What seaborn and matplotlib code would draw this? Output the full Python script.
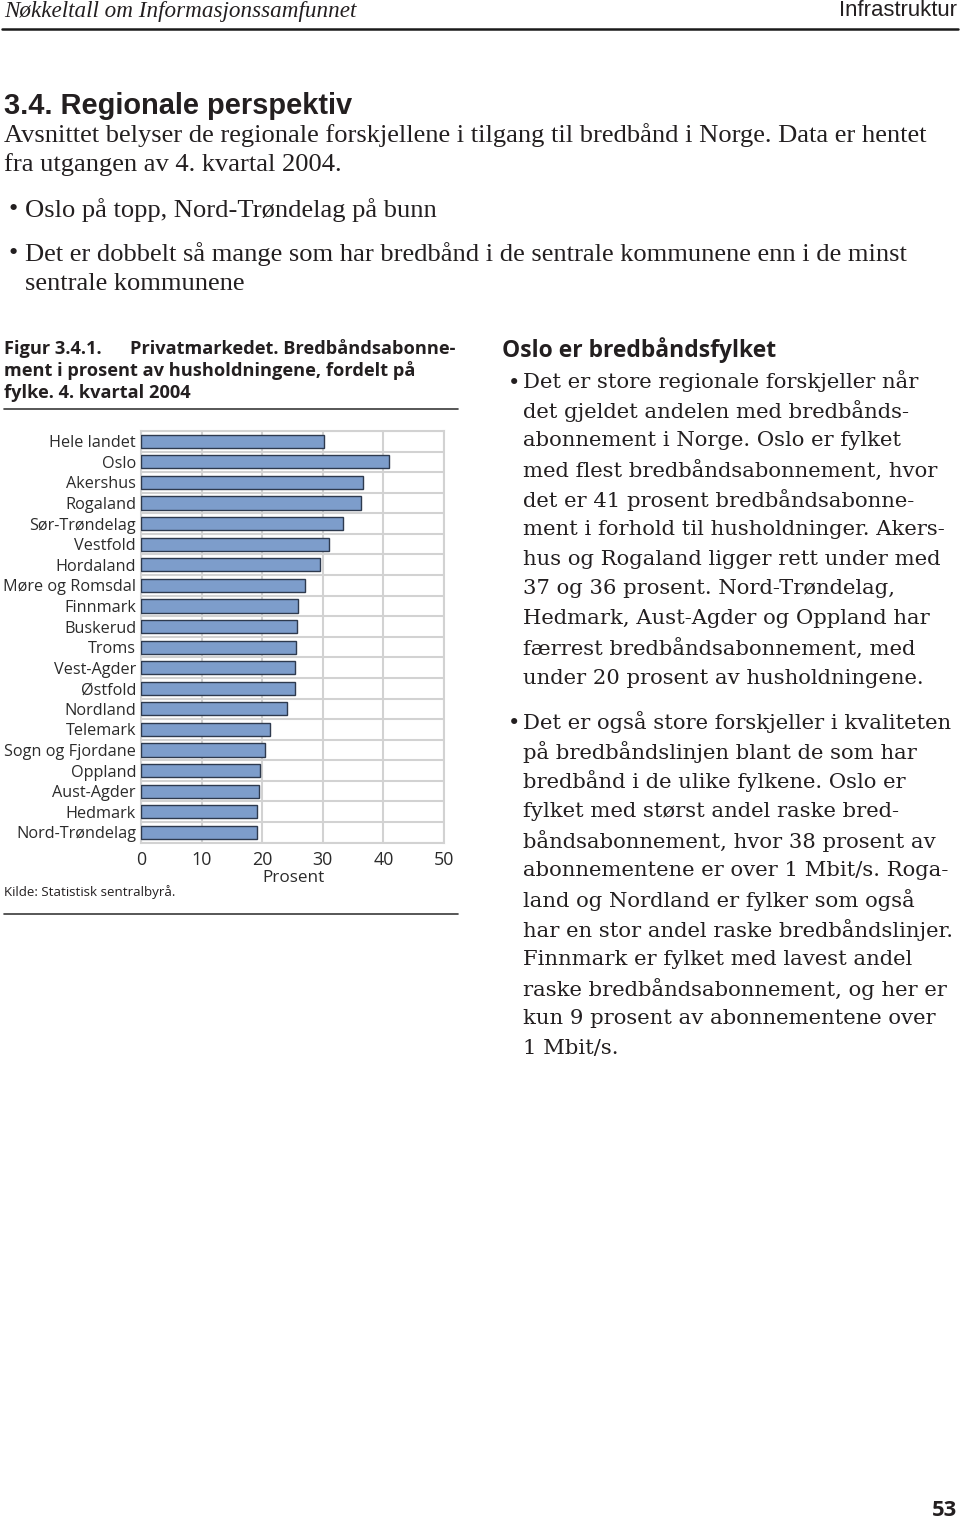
import numpy as np
import pandas as pd
import matplotlib.pyplot as plt
import seaborn as sns
from matplotlib.lines import Line2D

W, H = 960, 1526
INK = '#231f20'

fylker = ["Hele landet", "Oslo", "Akershus", "Rogaland", "Sør-Trøndelag", "Vestfold",
          "Hordaland", "Møre og Romsdal", "Finnmark", "Buskerud", "Troms", "Vest-Agder",
          "Østfold", "Nordland", "Telemark", "Sogn og Fjordane", "Oppland", "Aust-Agder",
          "Hedmark", "Nord-Trøndelag"]
prosent = [30.2, 40.9, 36.6, 36.3, 33.4, 31.0, 29.6, 27.0, 25.9, 25.7,
           25.5, 25.4, 25.4, 24.1, 21.3, 20.5, 19.7, 19.4, 19.2, 19.1]
xticks = [0, 10, 20, 30, 40, 50]

# page text: (line, right edge in px)
intro = [("Avsnittet belyser de regionale forskjellene i tilgang til bredbånd i Norge. Data er hentet", 928),
         ("fra utgangen av 4. kvartal 2004.", 348)]
punkter = [[("Oslo på topp, Nord-Trøndelag på bunn", 442)],
           [("Det er dobbelt så mange som har bredbånd i de sentrale kommunene enn i de minst", 916),
            ("sentrale kommunene", 252)]]
spalte1 = [("Det er store regionale forskjeller når", 917),
           ("det gjeldet andelen med bredbånds-", 915),
           ("abonnement i Norge. Oslo er fylket", 903),
           ("med flest bredbåndsabonnement, hvor", 942),
           ("det er 41 prosent bredbåndsabonne-", 925),
           ("ment i forhold til husholdninger. Akers-", 945),
           ("hus og Rogaland ligger rett under med", 942),
           ("37 og 36 prosent. Nord-Trøndelag,", 897),
           ("Hedmark, Aust-Agder og Oppland har", 935),
           ("færrest bredbåndsabonnement, med", 915),
           ("under 20 prosent av husholdningene.", 927)]
spalte2 = [("Det er også store forskjeller i kvaliteten", 948),
           ("på bredbåndslinjen blant de som har", 920),
           ("bredbånd i de ulike fylkene. Oslo er", 911),
           ("fylket med størst andel raske bred-", 898),
           ("båndsabonnement, hvor 38 prosent av", 941),
           ("abonnementene er over 1 Mbit/s. Roga-", 955),
           ("land og Nordland er fylker som også", 917),
           ("har en stor andel raske bredbåndslinjer.", 954),
           ("Finnmark er fylket med lavest andel", 913),
           ("raske bredbåndsabonnement, og her er", 947),
           ("kun 9 prosent av abonnementene over", 941),
           ("1 Mbit/s.", 622)]

sns.set_theme(style='white')
fig = plt.figure(figsize=(W / 100, H / 100), dpi=100)
fig.patch.set_facecolor('white')
renderer = fig.canvas.get_renderer()

SERIF_N = ['Liberation Serif', 'DejaVu Serif']
SERIF_W = ['DejaVu Serif']
SANS = ['Open Sans', 'DejaVu Sans']
NARROW = ['Liberation Sans', 'DejaVu Sans']


def fit_size(items, x0, **font):
    ratios = []
    for s, x1 in items:
        t = fig.text(0, 0, s, fontsize=10, **font)
        ratios.append((x1 - x0) / t.get_window_extent(renderer).width)
        t.remove()
    return 10 * float(np.median(ratios))


def put(x, y, s, size, ha='left', color=INK, **font):
    fig.text(x / W, 1 - y / H, s, fontsize=size, ha=ha, va='center', color=color, **font)


def rule(x0, x1, y, lw, color):
    fig.add_artist(Line2D([x0 / W, x1 / W], [1 - y / H] * 2, lw=lw, color=color))


# header
f = dict(family=SERIF_N, style='italic')
put(4, 11, "Nøkkeltall om Informasjonssamfunnet",
    fit_size([("Nøkkeltall om Informasjonssamfunnet", 357)], 4, **f), **f)
f = dict(family=NARROW)
put(957, 11, "Infrastruktur", fit_size([("Infrastruktur", 957)], 838, **f), ha='right', **f)
rule(2, 958, 28.5, 1.8, '#1a1a1a')

# section intro
f = dict(family=NARROW, weight='bold')
put(4, 106, "3.4. Regionale perspektiv",
    fit_size([("3.4. Regionale perspektiv", 354)], 4, **f), **f)
f = dict(family=SERIF_N)
size_top = fit_size(intro[:1], 4, **f)
put(4, 135, intro[0][0], size_top, **f)
put(4, 165, intro[1][0], size_top, **f)
for ys, lines in zip([[210], [254, 284]], punkter):
    put(9, ys[0], "•", size_top, **f)
    for y, (s, _) in zip(ys, lines):
        put(25, y, s, size_top, **f)

# figure caption
f = dict(family=SANS, weight='bold')
size_cap = fit_size([("Privatmarkedet. Bredbåndsabonne-", 457)], 130, **f)
put(4, 349, "Figur 3.4.1.", size_cap, **f)
put(130, 349, "Privatmarkedet. Bredbåndsabonne-", size_cap, **f)
put(4, 371, "ment i prosent av husholdningene, fordelt på", size_cap, **f)
put(4, 393, "fylke. 4. kvartal 2004", size_cap, **f)
rule(4, 458, 409, 1.2, '#3a3a3a')

# chart
df = pd.DataFrame({'fylke': fylker, 'prosent': prosent})
ax = fig.add_axes([141 / W, 1 - 842.6 / H, 303 / W, 411.6 / H])
sns.barplot(data=df, x='prosent', y='fylke', orient='h', color='#7d9dcb', saturation=1,
            edgecolor='#2e3a4e', linewidth=1.0, width=0.64, ax=ax, zorder=3)
GRID = '#d2d2d2'
ax.set_xlim(0, 50)
ax.set_ylim(len(fylker) - 0.5, -0.5)
ax.set_xticks(xticks)
ax.set_yticks(np.arange(-0.5, len(fylker)), minor=True)
ax.grid(axis='x', which='major', color=GRID, lw=1.5, zorder=0)
ax.grid(axis='y', which='minor', color=GRID, lw=1.5, zorder=0)
ax.set_axisbelow(True)
for sp in ax.spines.values():
    sp.set_color(GRID)
    sp.set_linewidth(1.5)
ax.set_xlabel('')
ax.set_ylabel('')
f = dict(family=SANS)
size_lab = fit_size([("Sogn og Fjordane", 136)], 4, **f)
ax.tick_params(axis='both', which='both', length=0, colors='#2b2b2b', labelsize=size_lab)
ax.tick_params(axis='x', labelsize=size_lab * 1.1, pad=6)
ax.tick_params(axis='y', pad=3.6)
for lab in ax.get_xticklabels() + ax.get_yticklabels():
    lab.set_family(SANS)
put(293, 878, "Prosent", size_lab * 1.05, ha='center', color='#2b2b2b', **f)
put(4, 892, "Kilde: Statistisk sentralbyrå.",
    fit_size([("Kilde: Statistisk sentralbyrå.", 176)], 4, **f), **f)
rule(4, 458, 914, 1.2, '#3a3a3a')

# right column
f = dict(family=SANS, weight='bold')
put(502, 350, "Oslo er bredbåndsfylket",
    fit_size([("Oslo er bredbåndsfylket", 777)], 502, **f), **f)
f = dict(family=SERIF_W)
size_col = fit_size(spalte1 + spalte2, 523, **f)
step = 29.7
for y0, lines in [(381, spalte1), (722, spalte2)]:
    put(508, y0 + 2, "•", size_col, **f)
    for i, (s, _) in enumerate(lines):
        put(523, y0 + i * step, s, size_col, **f)

# page number
f = dict(family=SANS, weight='bold')
put(957, 1511, "53", fit_size([("53", 957)], 932, **f), ha='right', **f)

fig.savefig('out.png', dpi=100, facecolor='white')
